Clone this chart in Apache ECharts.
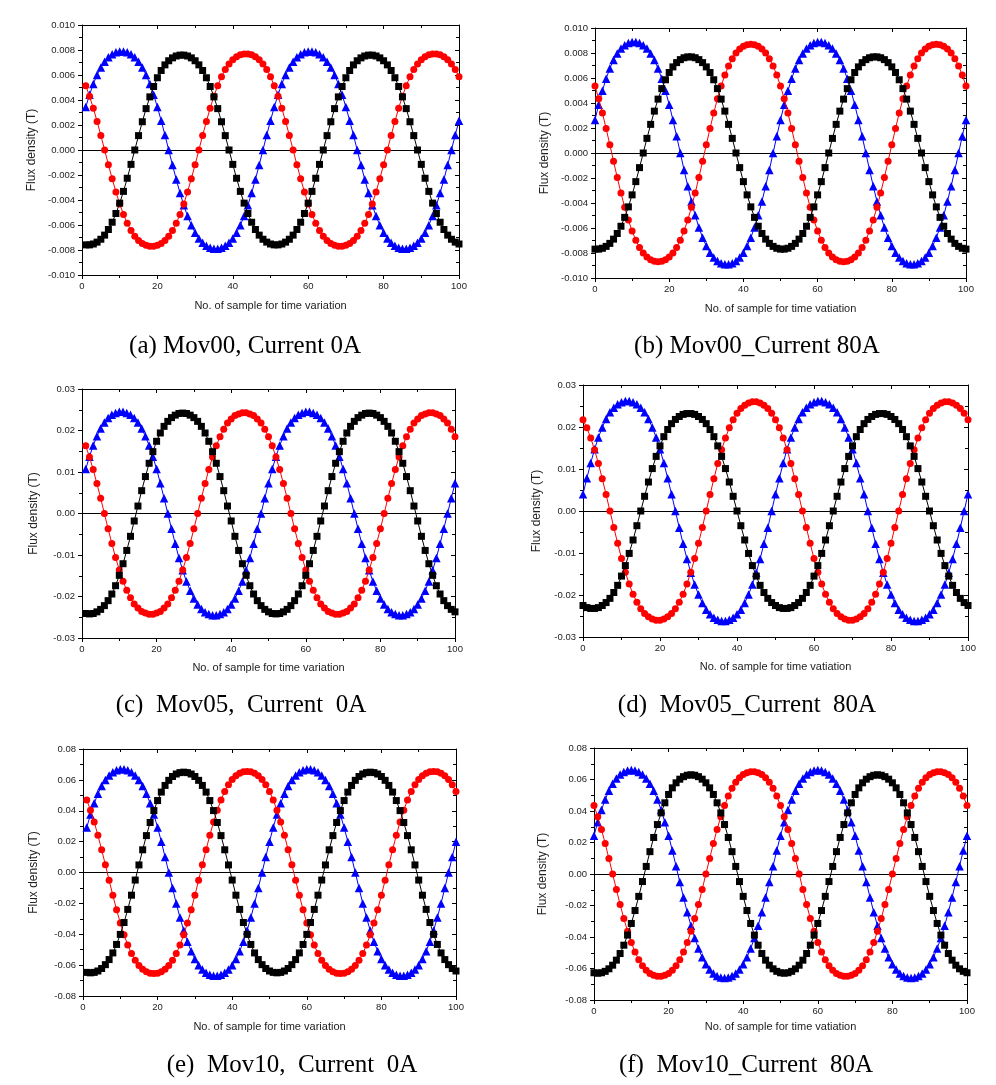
<!DOCTYPE html>
<html><head><meta charset="utf-8">
<script src="https://cdn.jsdelivr.net/npm/echarts@6/dist/echarts.min.js"></script>
<style>html,body{margin:0;padding:0;background:#fff}#c{width:996px;height:1085px}</style>
</head><body><div id="c"></div>
<script>
// ---- data (Flux density in T), one value per sample ----
const xTickLabels = [0, 20, 40, 60, 80, 100];
const startLeft = 1;   // panels (a),(c),(e): samples 1..100
const startRight = 0;  // panels (b),(d),(f): samples 0..100

const a_blue = [.00344,.00442,.00528,.00601,.00661,.00707,.00742,.00766,.00782,.00789,.00789,.00782,.00766,.00742,.00707,.00661,.00601,.00528,.00442,.00344,.00235,.0012,0,-.0012,-.00235,-.00344,-.00442,-.00528,-.00601,-.00661,-.00707,-.00742,-.00766,-.00782,-.00789,-.00789,-.00782,-.00766,-.00742,-.00707,-.00661,-.00601,-.00528,-.00442,-.00344,-.00235,-.0012,0,.0012,.00235,
.00344,.00442,.00528,.00601,.00661,.00707,.00742,.00766,.00782,.00789,.00789,.00782,.00766,.00742,.00707,.00661,.00601,.00528,.00442,.00344,.00235,.0012,0,-.0012,-.00235,-.00344,-.00442,-.00528,-.00601,-.00661,-.00707,-.00742,-.00766,-.00782,-.00789,-.00789,-.00782,-.00766,-.00742,-.00707,-.00661,-.00601,-.00528,-.00442,-.00344,-.00235,-.0012,0,.0012,.00235];
const a_black = [-.00759,-.00759,-.00752,-.00737,-.00714,-.00681,-.00636,-.00578,-.00508,-.00425,-.00331,-.00226,-.00115,0,.00115,.00226,.00331,.00425,.00508,.00578,.00636,.00681,.00714,.00737,.00752,.00759,.00759,.00752,.00737,.00714,.00681,.00636,.00578,.00508,.00425,.00331,.00226,.00115,0,-.00115,-.00226,-.00331,-.00425,-.00508,-.00578,-.00636,-.00681,-.00714,-.00737,-.00752,
-.00759,-.00759,-.00752,-.00737,-.00714,-.00681,-.00636,-.00578,-.00508,-.00425,-.00331,-.00226,-.00115,0,.00115,.00226,.00331,.00425,.00508,.00578,.00636,.00681,.00714,.00737,.00752,.00759,.00759,.00752,.00737,.00714,.00681,.00636,.00578,.00508,.00425,.00331,.00226,.00115,0,-.00115,-.00226,-.00331,-.00425,-.00508,-.00578,-.00636,-.00681,-.00714,-.00737,-.00752];
const a_red = [.00515,.00431,.00335,.00229,.00117,0,-.00117,-.00229,-.00335,-.00431,-.00515,-.00586,-.00644,-.00689,-.00723,-.00747,-.00762,-.00769,-.00769,-.00762,-.00747,-.00723,-.00689,-.00644,-.00586,-.00515,-.00431,-.00335,-.00229,-.00117,0,.00117,.00229,.00335,.00431,.00515,.00586,.00644,.00689,.00723,.00747,.00762,.00769,.00769,.00762,.00747,.00723,.00689,.00644,.00586,
.00515,.00431,.00335,.00229,.00117,0,-.00117,-.00229,-.00335,-.00431,-.00515,-.00586,-.00644,-.00689,-.00723,-.00747,-.00762,-.00769,-.00769,-.00762,-.00747,-.00723,-.00689,-.00644,-.00586,-.00515,-.00431,-.00335,-.00229,-.00117,0,.00117,.00229,.00335,.00431,.00515,.00586,.00644,.00689,.00723,.00747,.00762,.00769,.00769,.00762,.00747,.00723,.00689,.00644,.00586];

const b_blue = [.00265,.00387,.00498,.00595,.00677,.00744,.00797,.00836,.00863,.00881,.00889,.00889,.00881,.00863,.00836,.00797,.00744,.00677,.00595,.00498,.00387,.00265,.00135,0,-.00135,-.00265,-.00387,-.00498,-.00595,-.00677,-.00744,-.00797,-.00836,-.00863,-.00881,-.00889,-.00889,-.00881,-.00863,-.00836,-.00797,-.00744,-.00677,-.00595,-.00498,-.00387,-.00265,-.00135,0,.00135,
.00265,.00387,.00498,.00595,.00677,.00744,.00797,.00836,.00863,.00881,.00889,.00889,.00881,.00863,.00836,.00797,.00744,.00677,.00595,.00498,.00387,.00265,.00135,0,-.00135,-.00265,-.00387,-.00498,-.00595,-.00677,-.00744,-.00797,-.00836,-.00863,-.00881,-.00889,-.00889,-.00881,-.00863,-.00836,-.00797,-.00744,-.00677,-.00595,-.00498,-.00387,-.00265,-.00135,0,.00135,.00265];
const b_black = [-.00769,-.00769,-.00762,-.00747,-.00723,-.00689,-.00644,-.00586,-.00515,-.00431,-.00335,-.00229,-.00117,0,.00117,.00229,.00335,.00431,.00515,.00586,.00644,.00689,.00723,.00747,.00762,.00769,.00769,.00762,.00747,.00723,.00689,.00644,.00586,.00515,.00431,.00335,.00229,.00117,0,-.00117,-.00229,-.00335,-.00431,-.00515,-.00586,-.00644,-.00689,-.00723,-.00747,-.00762,
-.00769,-.00769,-.00762,-.00747,-.00723,-.00689,-.00644,-.00586,-.00515,-.00431,-.00335,-.00229,-.00117,0,.00117,.00229,.00335,.00431,.00515,.00586,.00644,.00689,.00723,.00747,.00762,.00769,.00769,.00762,.00747,.00723,.00689,.00644,.00586,.00515,.00431,.00335,.00229,.00117,0,-.00117,-.00229,-.00335,-.00431,-.00515,-.00586,-.00644,-.00689,-.00723,-.00747,-.00762,-.00769];
const b_red = [.00536,.00434,.0032,.00196,.00066,-.00066,-.00196,-.0032,-.00434,-.00536,-.00624,-.00697,-.00755,-.008,-.00832,-.00854,-.00866,-.0087,-.00866,-.00854,-.00832,-.008,-.00755,-.00697,-.00624,-.00536,-.00434,-.0032,-.00196,-.00066,.00066,.00196,.0032,.00434,.00536,.00624,.00697,.00755,.008,.00832,.00854,.00866,.0087,.00866,.00854,.00832,.008,.00755,.00697,.00624,
.00536,.00434,.0032,.00196,.00066,-.00066,-.00196,-.0032,-.00434,-.00536,-.00624,-.00697,-.00755,-.008,-.00832,-.00854,-.00866,-.0087,-.00866,-.00854,-.00832,-.008,-.00755,-.00697,-.00624,-.00536,-.00434,-.0032,-.00196,-.00066,.00066,.00196,.0032,.00434,.00536,.00624,.00697,.00755,.008,.00832,.00854,.00866,.0087,.00866,.00854,.00832,.008,.00755,.00697,.00624,.00536];

const c_blue = [.0107,.0137,.0164,.0186,.0205,.0219,.023,.0238,.0242,.0245,.0245,.0242,.0238,.023,.0219,.0205,.0186,.0164,.0137,.0107,.0073,.0037,0,-.0037,-.0073,-.0107,-.0137,-.0164,-.0186,-.0205,-.0219,-.023,-.0238,-.0242,-.0245,-.0245,-.0242,-.0238,-.023,-.0219,-.0205,-.0186,-.0164,-.0137,-.0107,-.0073,-.0037,0,.0037,.0073,
.0107,.0137,.0164,.0186,.0205,.0219,.023,.0238,.0242,.0245,.0245,.0242,.0238,.023,.0219,.0205,.0186,.0164,.0137,.0107,.0073,.0037,0,-.0037,-.0073,-.0107,-.0137,-.0164,-.0186,-.0205,-.0219,-.023,-.0238,-.0242,-.0245,-.0245,-.0242,-.0238,-.023,-.0219,-.0205,-.0186,-.0164,-.0137,-.0107,-.0073,-.0037,0,.0037,.0073];
const c_black = [-.0241,-.0242,-.0241,-.0237,-.0231,-.0222,-.021,-.0194,-.0174,-.0149,-.0121,-.0089,-.0055,-.0018,.0018,.0055,.0089,.0121,.0149,.0174,.0194,.021,.0222,.0231,.0237,.0241,.0242,.0241,.0237,.0231,.0222,.021,.0194,.0174,.0149,.0121,.0089,.0055,.0018,-.0018,-.0055,-.0089,-.0121,-.0149,-.0174,-.0194,-.021,-.0222,-.0231,-.0237,
-.0241,-.0242,-.0241,-.0237,-.0231,-.0222,-.021,-.0194,-.0174,-.0149,-.0121,-.0089,-.0055,-.0018,.0018,.0055,.0089,.0121,.0149,.0174,.0194,.021,.0222,.0231,.0237,.0241,.0242,.0241,.0237,.0231,.0222,.021,.0194,.0174,.0149,.0121,.0089,.0055,.0018,-.0018,-.0055,-.0089,-.0121,-.0149,-.0174,-.0194,-.021,-.0222,-.0231,-.0237];
const c_red = [.0163,.0136,.0106,.0072,.0037,0,-.0037,-.0072,-.0106,-.0136,-.0163,-.0185,-.0203,-.0218,-.0228,-.0236,-.024,-.0243,-.0243,-.024,-.0236,-.0228,-.0218,-.0203,-.0185,-.0163,-.0136,-.0106,-.0072,-.0037,0,.0037,.0072,.0106,.0136,.0163,.0185,.0203,.0218,.0228,.0236,.024,.0243,.0243,.024,.0236,.0228,.0218,.0203,.0185,
.0163,.0136,.0106,.0072,.0037,0,-.0037,-.0072,-.0106,-.0136,-.0163,-.0185,-.0203,-.0218,-.0228,-.0236,-.024,-.0243,-.0243,-.024,-.0236,-.0228,-.0218,-.0203,-.0185,-.0163,-.0136,-.0106,-.0072,-.0037,0,.0037,.0072,.0106,.0136,.0163,.0185,.0203,.0218,.0228,.0236,.024,.0243,.0243,.024,.0236,.0228,.0218,.0203,.0185];

const d_blue = [.004,.0078,.0114,.0147,.0175,.0199,.0219,.0235,.0246,.0254,.0259,.0262,.0262,.0259,.0254,.0246,.0235,.0219,.0199,.0175,.0147,.0114,.0078,.004,0,-.004,-.0078,-.0114,-.0147,-.0175,-.0199,-.0219,-.0235,-.0246,-.0254,-.0259,-.0262,-.0262,-.0259,-.0254,-.0246,-.0235,-.0219,-.0199,-.0175,-.0147,-.0114,-.0078,-.004,0,
.004,.0078,.0114,.0147,.0175,.0199,.0219,.0235,.0246,.0254,.0259,.0262,.0262,.0259,.0254,.0246,.0235,.0219,.0199,.0175,.0147,.0114,.0078,.004,0,-.004,-.0078,-.0114,-.0147,-.0175,-.0199,-.0219,-.0235,-.0246,-.0254,-.0259,-.0262,-.0262,-.0259,-.0254,-.0246,-.0235,-.0219,-.0199,-.0175,-.0147,-.0114,-.0078,-.004,0,.004];
const d_black = [-.0225,-.023,-.0232,-.0232,-.023,-.0225,-.0218,-.0208,-.0194,-.0177,-.0155,-.013,-.0101,-.0069,-.0035,0,.0035,.0069,.0101,.013,.0155,.0177,.0194,.0208,.0218,.0225,.023,.0232,.0232,.023,.0225,.0218,.0208,.0194,.0177,.0155,.013,.0101,.0069,.0035,0,-.0035,-.0069,-.0101,-.013,-.0155,-.0177,-.0194,-.0208,-.0218,
-.0225,-.023,-.0232,-.0232,-.023,-.0225,-.0218,-.0208,-.0194,-.0177,-.0155,-.013,-.0101,-.0069,-.0035,0,.0035,.0069,.0101,.013,.0155,.0177,.0194,.0208,.0218,.0225,.023,.0232,.0232,.023,.0225,.0218,.0208,.0194,.0177,.0155,.013,.0101,.0069,.0035,0,-.0035,-.0069,-.0101,-.013,-.0155,-.0177,-.0194,-.0208,-.0218,-.0225];
const d_red = [.0217,.0198,.0174,.0146,.0113,.0077,.0039,0,-.0039,-.0077,-.0113,-.0146,-.0174,-.0198,-.0217,-.0233,-.0244,-.0252,-.0257,-.026,-.026,-.0257,-.0252,-.0244,-.0233,-.0217,-.0198,-.0174,-.0146,-.0113,-.0077,-.0039,0,.0039,.0077,.0113,.0146,.0174,.0198,.0217,.0233,.0244,.0252,.0257,.026,.026,.0257,.0252,.0244,.0233,
.0217,.0198,.0174,.0146,.0113,.0077,.0039,0,-.0039,-.0077,-.0113,-.0146,-.0174,-.0198,-.0217,-.0233,-.0244,-.0252,-.0257,-.026,-.026,-.0257,-.0252,-.0244,-.0233,-.0217,-.0198,-.0174,-.0146,-.0113,-.0077,-.0039,0,.0039,.0077,.0113,.0146,.0174,.0198,.0217,.0233,.0244,.0252,.0257,.026,.026,.0257,.0252,.0244,.0233,.0217];

const e_blue = [.0292,.0375,.0448,.051,.056,.06,.0629,.065,.0663,.0669,.0669,.0663,.065,.0629,.06,.056,.051,.0448,.0375,.0292,.02,.0101,0,-.0101,-.02,-.0292,-.0375,-.0448,-.051,-.056,-.06,-.0629,-.065,-.0663,-.0669,-.0669,-.0663,-.065,-.0629,-.06,-.056,-.051,-.0448,-.0375,-.0292,-.02,-.0101,0,.0101,.02,
.0292,.0375,.0448,.051,.056,.06,.0629,.065,.0663,.0669,.0669,.0663,.065,.0629,.06,.056,.051,.0448,.0375,.0292,.02,.0101,0,-.0101,-.02,-.0292,-.0375,-.0448,-.051,-.056,-.06,-.0629,-.065,-.0663,-.0669,-.0669,-.0663,-.065,-.0629,-.06,-.056,-.051,-.0448,-.0375,-.0292,-.02,-.0101,0,.0101,.02];
const e_black = [-.0647,-.065,-.0647,-.0638,-.0622,-.0597,-.0564,-.0521,-.0466,-.0401,-.0324,-.0239,-.0147,-.0049,.0049,.0147,.0239,.0324,.0401,.0466,.0521,.0564,.0597,.0622,.0638,.0647,.065,.0647,.0638,.0622,.0597,.0564,.0521,.0466,.0401,.0324,.0239,.0147,.0049,-.0049,-.0147,-.0239,-.0324,-.0401,-.0466,-.0521,-.0564,-.0597,-.0622,-.0638,
-.0647,-.065,-.0647,-.0638,-.0622,-.0597,-.0564,-.0521,-.0466,-.0401,-.0324,-.0239,-.0147,-.0049,.0049,.0147,.0239,.0324,.0401,.0466,.0521,.0564,.0597,.0622,.0638,.0647,.065,.0647,.0638,.0622,.0597,.0564,.0521,.0466,.0401,.0324,.0239,.0147,.0049,-.0049,-.0147,-.0239,-.0324,-.0401,-.0466,-.0521,-.0564,-.0597,-.0622,-.0638];
const e_red = [.047,.0404,.0327,.0241,.0148,.005,-.005,-.0148,-.0241,-.0327,-.0404,-.047,-.0525,-.0568,-.0602,-.0626,-.0643,-.0652,-.0655,-.0652,-.0643,-.0626,-.0602,-.0568,-.0525,-.047,-.0404,-.0327,-.0241,-.0148,-.005,.005,.0148,.0241,.0327,.0404,.047,.0525,.0568,.0602,.0626,.0643,.0652,.0655,.0652,.0643,.0626,.0602,.0568,.0525,
.047,.0404,.0327,.0241,.0148,.005,-.005,-.0148,-.0241,-.0327,-.0404,-.047,-.0525,-.0568,-.0602,-.0626,-.0643,-.0652,-.0655,-.0652,-.0643,-.0626,-.0602,-.0568,-.0525,-.047,-.0404,-.0327,-.0241,-.0148,-.005,.005,.0148,.0241,.0327,.0404,.047,.0525,.0568,.0602,.0626,.0643,.0652,.0655,.0652,.0643,.0626,.0602,.0568,.0525];

const f_blue = [.0243,.0329,.0407,.0473,.0529,.0573,.0607,.0631,.0648,.0657,.066,.0657,.0648,.0631,.0607,.0573,.0529,.0473,.0407,.0329,.0243,.0149,.005,-.005,-.0149,-.0243,-.0329,-.0407,-.0473,-.0529,-.0573,-.0607,-.0631,-.0648,-.0657,-.066,-.0657,-.0648,-.0631,-.0607,-.0573,-.0529,-.0473,-.0407,-.0329,-.0243,-.0149,-.005,.005,.0149,
.0243,.0329,.0407,.0473,.0529,.0573,.0607,.0631,.0648,.0657,.066,.0657,.0648,.0631,.0607,.0573,.0529,.0473,.0407,.0329,.0243,.0149,.005,-.005,-.0149,-.0243,-.0329,-.0407,-.0473,-.0529,-.0573,-.0607,-.0631,-.0648,-.0657,-.066,-.0657,-.0648,-.0631,-.0607,-.0573,-.0529,-.0473,-.0407,-.0329,-.0243,-.0149,-.005,.005,.0149,.0243];
const f_black = [-.0627,-.063,-.0627,-.0618,-.0602,-.0579,-.0547,-.0505,-.0452,-.0388,-.0314,-.0232,-.0142,-.0048,.0048,.0142,.0232,.0314,.0388,.0452,.0505,.0547,.0579,.0602,.0618,.0627,.063,.0627,.0618,.0602,.0579,.0547,.0505,.0452,.0388,.0314,.0232,.0142,.0048,-.0048,-.0142,-.0232,-.0314,-.0388,-.0452,-.0505,-.0547,-.0579,-.0602,-.0618,
-.0627,-.063,-.0627,-.0618,-.0602,-.0579,-.0547,-.0505,-.0452,-.0388,-.0314,-.0232,-.0142,-.0048,.0048,.0142,.0232,.0314,.0388,.0452,.0505,.0547,.0579,.0602,.0618,.0627,.063,.0627,.0618,.0602,.0579,.0547,.0505,.0452,.0388,.0314,.0232,.0142,.0048,-.0048,-.0142,-.0232,-.0314,-.0388,-.0452,-.0505,-.0547,-.0579,-.0602,-.0618,-.0627];
const f_red = [.0435,.0364,.0283,.0194,.0098,0,-.0098,-.0194,-.0283,-.0364,-.0435,-.0495,-.0544,-.0582,-.0611,-.0631,-.0643,-.0649,-.0649,-.0643,-.0631,-.0611,-.0582,-.0544,-.0495,-.0435,-.0364,-.0283,-.0194,-.0098,0,.0098,.0194,.0283,.0364,.0435,.0495,.0544,.0582,.0611,.0631,.0643,.0649,.0649,.0643,.0631,.0611,.0582,.0544,.0495,
.0435,.0364,.0283,.0194,.0098,0,-.0098,-.0194,-.0283,-.0364,-.0435,-.0495,-.0544,-.0582,-.0611,-.0631,-.0643,-.0649,-.0649,-.0643,-.0631,-.0611,-.0582,-.0544,-.0495,-.0435,-.0364,-.0283,-.0194,-.0098,0,.0098,.0194,.0283,.0364,.0435,.0495,.0544,.0582,.0611,.0631,.0643,.0649,.0649,.0643,.0631,.0611,.0582,.0544,.0495,.0435];

const captions = ['(a) Mov00, Current 0A', '(b) Mov00_Current 80A', '(c)  Mov05,  Current  0A',
                  '(d)  Mov05_Current  80A', '(e)  Mov10,  Current  0A', '(f)  Mov10_Current  80A'];
const xNames = ['No. of sample for time variation', 'No. of sample for time vatiation'];
const yName = 'Flux density (T)';
const yRanges = [[-0.01, 0.01, 0.002, 3], [-0.03, 0.03, 0.01, 2], [-0.08, 0.08, 0.02, 2]];

// ---- layout (pixels) ----
const layout = [
  {left: 82,  top: 25,  width: 377, height: 250, yGap: 44, xGap: 25, cx: 245, cy: 346},
  {left: 595, top: 28,  width: 371, height: 250, yGap: 44, xGap: 25, cx: 757, cy: 346},
  {left: 82,  top: 389, width: 373, height: 249, yGap: 42, xGap: 24, cx: 241, cy: 705},
  {left: 583, top: 385, width: 385, height: 252, yGap: 40, xGap: 24, cx: 747, cy: 705},
  {left: 83,  top: 749, width: 373, height: 247, yGap: 43, xGap: 25, cx: 292, cy: 1065},
  {left: 594, top: 748, width: 373, height: 252, yGap: 45, xGap: 21, cx: 746, cy: 1065}
];
const panelSeries = [[a_blue, a_red, a_black], [b_blue, b_red, b_black], [c_blue, c_red, c_black],
                     [d_blue, d_red, d_black], [e_blue, e_red, e_black], [f_blue, f_red, f_black]];
const styles = [
  {color: '#0000ff', symbol: 'triangle', size: 8.5},
  {color: '#ff0000', symbol: 'circle', size: 7},
  {color: '#000000', symbol: 'rect', size: 7}
];

const font = '"Liberation Sans", Arial, sans-serif';
const grids = [], xAxes = [], yAxes = [], series = [], graphics = [];
layout.forEach((L, i) => {
  const right = i % 2 === 1;
  const start = right ? startRight : startLeft;
  const yr = yRanges[Math.floor(i / 2)];
  grids.push({left: L.left, top: L.top, width: L.width, height: L.height, containLabel: false, outerBoundsMode: 'none'});
  const lineC = {color: '#000', width: 1};
  const xCommon = {gridIndex: i, type: 'value', min: 0, max: 100, interval: 20,
    axisLine: {show: true, onZero: false, lineStyle: lineC},
    splitLine: {show: false}};
  xAxes.push(Object.assign({}, xCommon, {position: 'bottom',
    axisTick: {show: true, length: 4, lineStyle: lineC},
    minorTick: {show: true, splitNumber: 2, length: 3, lineStyle: lineC},
    axisLabel: {show: true, fontSize: 9.5, color: '#222', fontFamily: font, margin: 6,
      formatter: v => (xTickLabels.indexOf(v) >= 0 ? String(v) : '')},
    name: xNames[right ? 1 : 0], nameLocation: 'middle', nameGap: L.xGap,
    nameTextStyle: {fontSize: 11, color: '#222', fontFamily: font}}));
  xAxes.push(Object.assign({}, xCommon, {position: 'top',
    axisTick: {show: true, inside: true, length: 4, lineStyle: lineC},
    minorTick: {show: true, splitNumber: 2, length: 3, lineStyle: lineC},
    axisLabel: {show: false}}));
  const yCommon = {gridIndex: i, type: 'value', min: yr[0], max: yr[1], interval: yr[2],
    axisLine: {show: true, onZero: false, lineStyle: lineC}, splitLine: {show: false}};
  yAxes.push(Object.assign({}, yCommon, {position: 'left',
    axisTick: {show: true, length: 4, lineStyle: lineC},
    minorTick: {show: true, splitNumber: 2, length: 3, lineStyle: lineC},
    axisLabel: {show: true, fontSize: 9.5, color: '#222', fontFamily: font, margin: 7,
      formatter: v => v.toFixed(yr[3])},
    name: yName, nameLocation: 'middle', nameGap: L.yGap, nameRotate: 90,
    nameTextStyle: {fontSize: 12, color: '#222', fontFamily: font}}));
  yAxes.push(Object.assign({}, yCommon, {position: 'right',
    axisTick: {show: true, inside: true, length: 4, lineStyle: lineC},
    minorTick: {show: true, splitNumber: 2, length: 3, lineStyle: lineC},
    axisLabel: {show: false}}));

  panelSeries[i].forEach((vals, k) => {
    const st = styles[k];
    const s = {
      type: 'line', xAxisIndex: 2 * i, yAxisIndex: 2 * i,
      data: vals.map((v, j) => [start + j, v]),
      symbol: st.symbol, symbolSize: st.size, showSymbol: true, showAllSymbol: true,
      lineStyle: {color: st.color, width: 1}, itemStyle: {color: st.color},
      animation: false, silent: true, z: 3 + k
    };
    if (k === 0) {
      s.markLine = {silent: true, symbol: 'none', label: {show: false}, animation: false,
        lineStyle: {color: '#000', width: 1, type: 'solid'}, data: [{yAxis: 0}], z: 2};
    }
    series.push(s);
  });

  graphics.push({type: 'text', x: L.cx, y: L.cy,
    style: {text: captions[i], font: '25px "Liberation Serif", serif', fill: '#000',
      textAlign: 'center', align: 'center', textVerticalAlign: 'middle', verticalAlign: 'middle'}});
});

const chart = echarts.init(document.getElementById('c'), null, {renderer: 'canvas', width: 996, height: 1085});
chart.setOption({
  backgroundColor: '#ffffff', animation: false,
  grid: grids, xAxis: xAxes, yAxis: yAxes, series: series, graphic: graphics
});
</script></body></html>
